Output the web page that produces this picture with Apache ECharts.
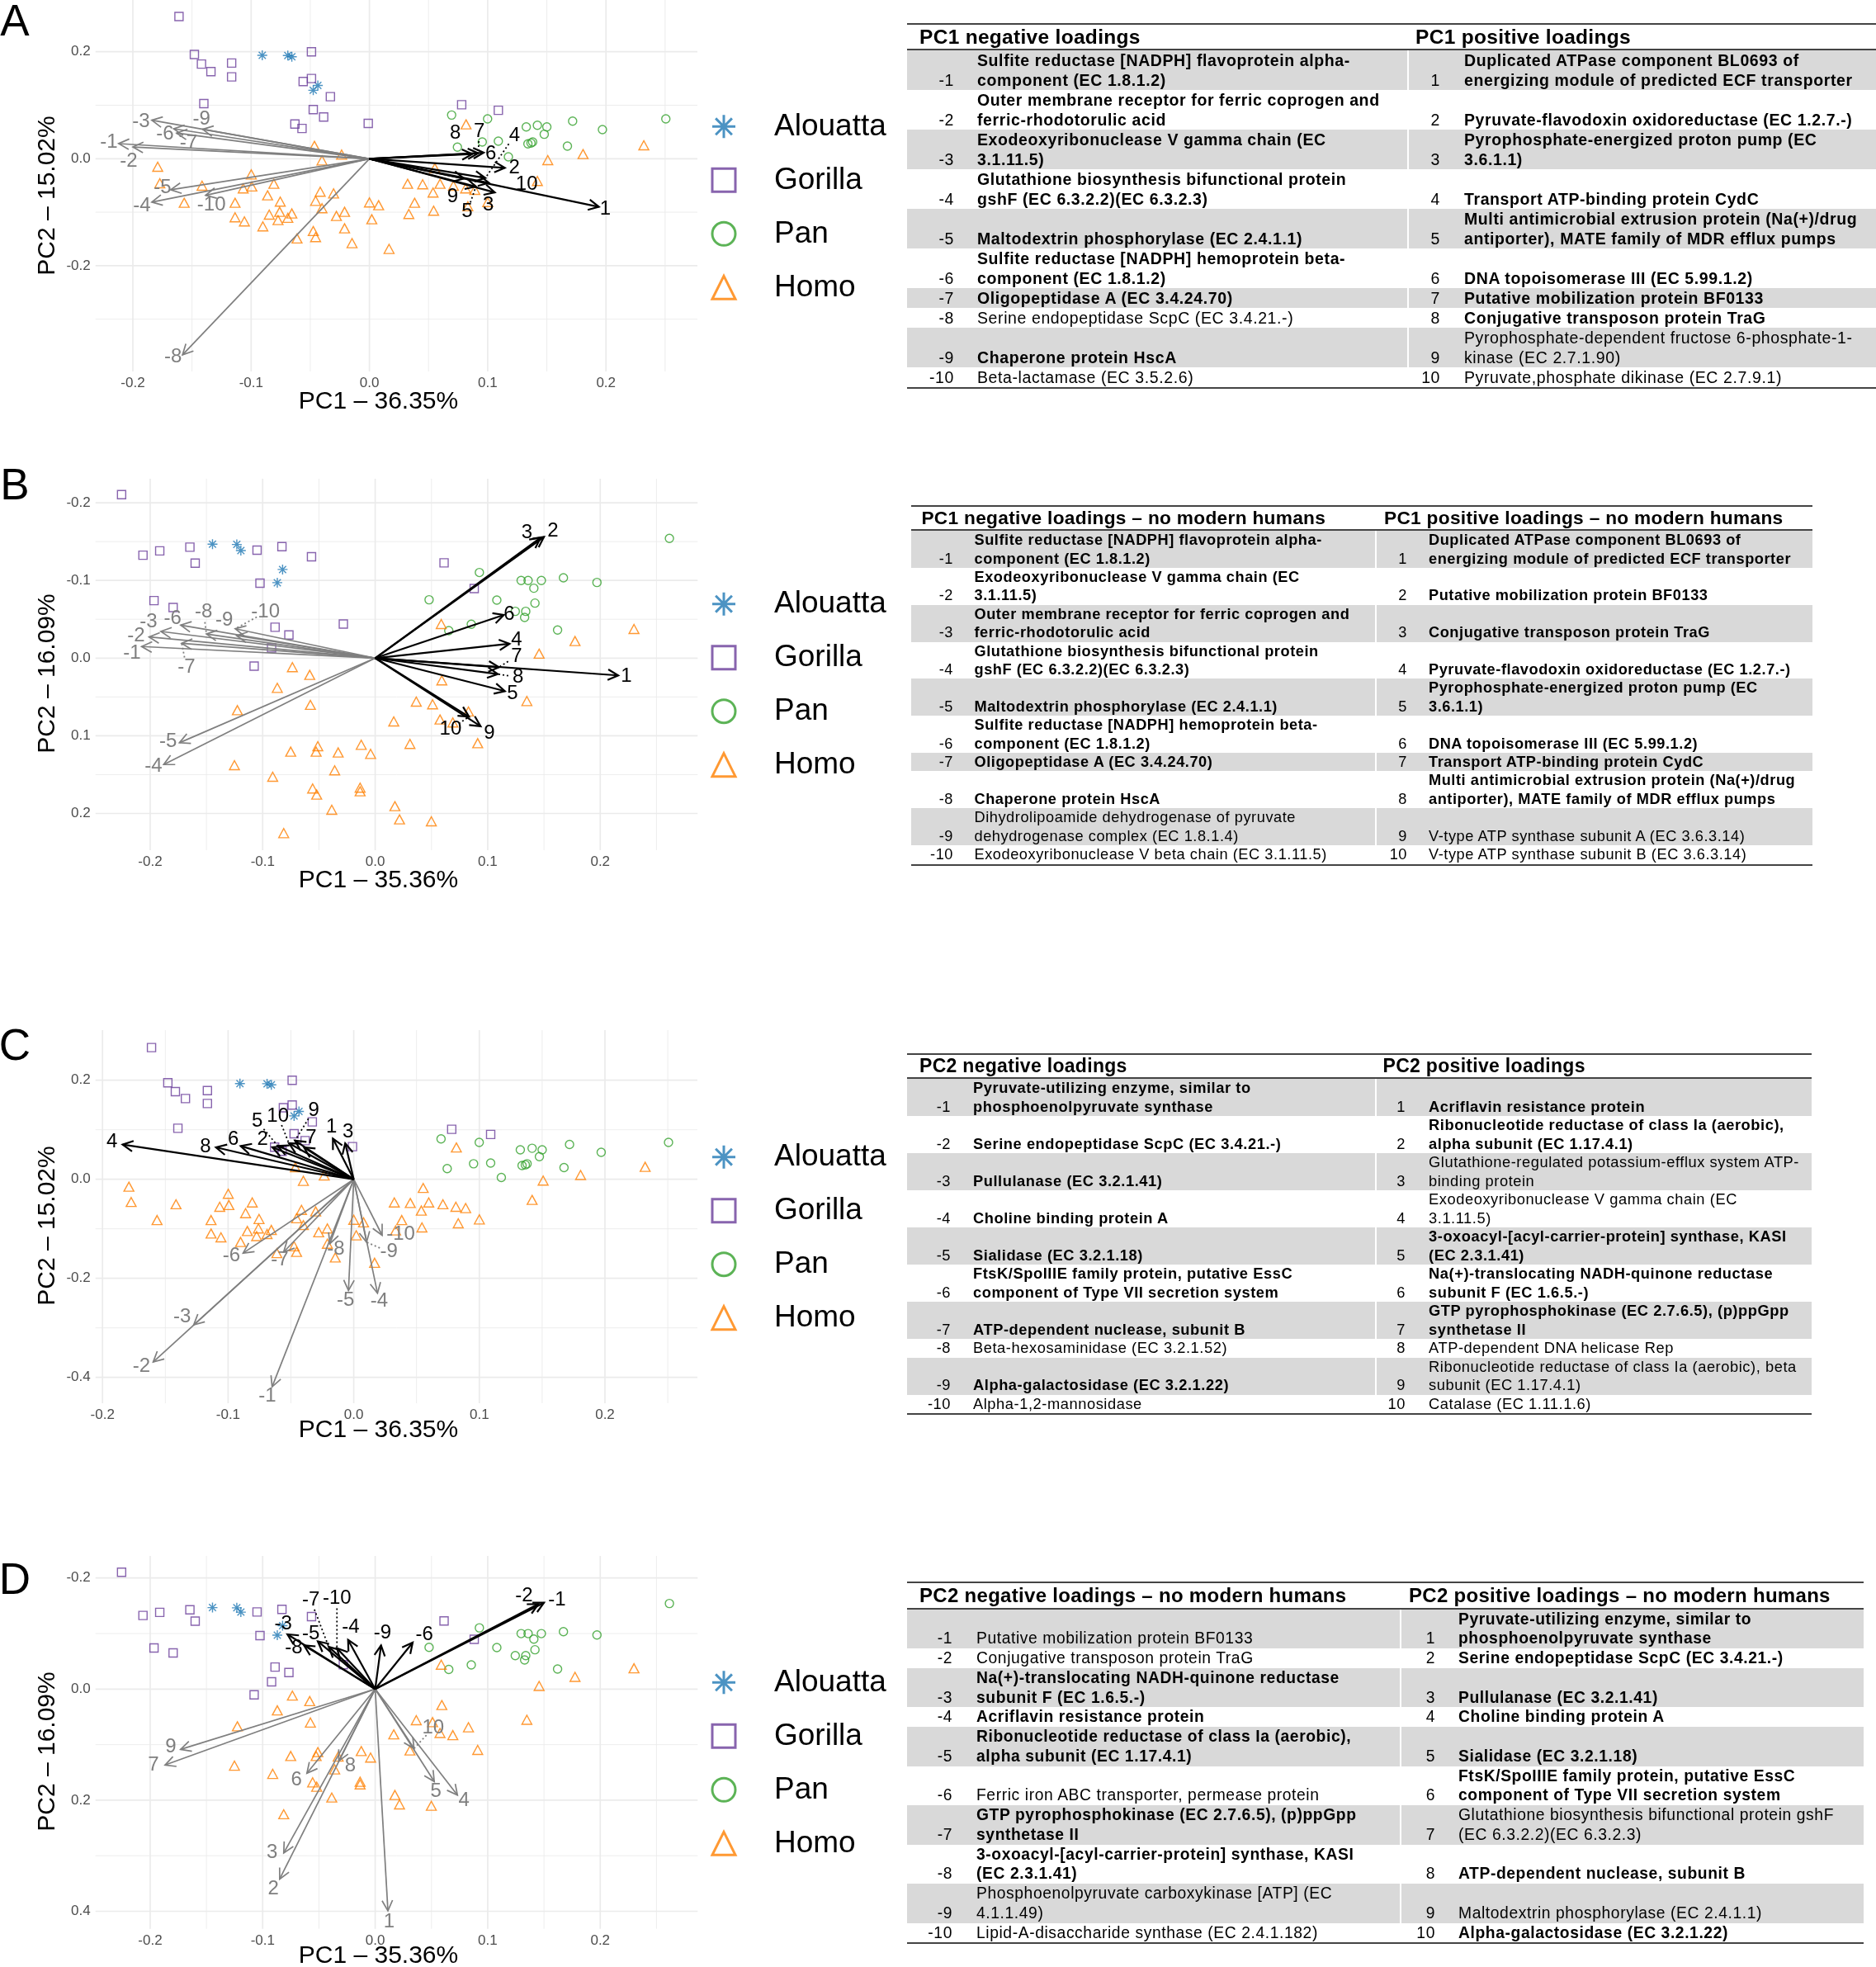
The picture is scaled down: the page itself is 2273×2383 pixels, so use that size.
<!DOCTYPE html>
<html><head><meta charset="utf-8">
<script src="https://cdn.jsdelivr.net/npm/echarts@6/dist/echarts.min.js"></script>
<style>
html,body{margin:0;padding:0;background:#fff;}
#chart{position:absolute;left:0;top:0;width:2273px;height:2383px;}
.tbl{position:absolute;font-family:'Liberation Sans',Arial,Helvetica,sans-serif;color:#000;z-index:5;}
.tbl table{border-collapse:collapse;table-layout:fixed;}
.tbl th{font-weight:bold;text-align:left;vertical-align:bottom;padding:0;white-space:nowrap;border-top:2px solid #444;border-bottom:2px solid #444;}
.tbl td{padding:0;vertical-align:bottom;white-space:nowrap;}
.tbl td.n{text-align:right;}
.tbl tr.g td{background:#D9D9D9;}
.tbl td.c3{border-left:2px solid #fff;}
.tbl tr.last td{border-bottom:2px solid #444;}
</style></head><body>
<div id="chart"></div>
<script>
const FONT = "'Liberation Sans', Arial, Helvetica, sans-serif";
const species = ['Alouatta', 'Gorilla', 'Pan', 'Homo'];
const COLORS = ['#1F78B4', '#6A3D9A', '#33A02C', '#FF7F00'];

// ---------- Scores: PCA with all samples (panels A and C) ----------
const acAlouattaX = [-0.0906, -0.069, -0.0656, -0.0436, -0.0475];
const acAlouattaY = [0.1933, 0.193, 0.1907, 0.137, 0.128];
const acGorillaX = [-0.161, -0.148, -0.142, -0.134, -0.1165, -0.1165, -0.049, -0.049, -0.056, -0.033, -0.140, -0.0475, -0.0387, -0.063, -0.057, -0.001, 0.078, 0.109];
const acGorillaY = [0.266, 0.195, 0.177, 0.163, 0.179, 0.153, 0.200, 0.150, 0.1445, 0.116, 0.103, 0.092, 0.078, 0.065, 0.0566, 0.066, 0.101, 0.0905];
const acPanX = [0.0695, 0.0999, 0.0744, 0.0954, 0.109, 0.1175, 0.1326, 0.142, 0.150, 0.1478, 0.1718, 0.197, 0.2506, 0.134, 0.1366, 0.138, 0.1674];
const acPanY = [0.0817, 0.0746, 0.0216, 0.0314, 0.0329, 0.0036, 0.0596, 0.0627, 0.0596, 0.0458, 0.0704, 0.0545, 0.0746, 0.0278, 0.0293, 0.0314, 0.0237];
const acHomoX = [0.0817, -0.0465, -0.0235, -0.0401, 0.232, 0.1806, 0.1508, -0.179, -0.0999, 0.0553,
  -0.1772, -0.1415, -0.1067, -0.0994, -0.0808, -0.0861, -0.0416, -0.0303, 0.0323, 0.045,
  0.0597, 0.071, 0.0813, 0.0891, 0.142, 0.0538, -0.1566, -0.1136, -0.0754, -0.0455,
  -0.0401, 0.0, 0.0078, 0.0382, -0.1136, -0.1057, -0.0847, -0.0759, -0.0773, -0.069,
  -0.0656, -0.0901, -0.0279, -0.021, 0.002, 0.0333, 0.0543, -0.021, -0.0475, -0.0612,
  -0.0455, -0.0147, 0.0166, 0.0832, 0.100];
const acHomoY = [0.0643, 0.0242, 0.0077, -0.0031, 0.0252, 0.0087, -0.0026, -0.0149, -0.0293, -0.0175,
  -0.0458, -0.0504, -0.0555, -0.0519, -0.0468, -0.0684, -0.0617, -0.0648, -0.0468, -0.0478,
  -0.0468, -0.0504, -0.0555, -0.0581, -0.0416, -0.0632, -0.0823, -0.0823, -0.0802, -0.0787,
  -0.0925, -0.0817, -0.0869, -0.0823, -0.1095, -0.1172, -0.1044, -0.0992, -0.1147, -0.1105,
  -0.1023, -0.1265, -0.1069, -0.0992, -0.1131, -0.1033, -0.0972, -0.1301, -0.1352, -0.1491,
  -0.1465, -0.1578, -0.1686, -0.0889, -0.081];

// ---------- Scores: PCA without modern humans (panels B and D) ----------
const bdAlouattaX = [-0.1446, -0.123, -0.1194, -0.0823, -0.087];
const bdAlouattaY = [-0.1467, -0.1463, -0.1385, -0.1141, -0.0971];
const bdGorillaX = [-0.2254, -0.2064, -0.1915, -0.1647, -0.160, -0.105, -0.0829, -0.0566, 0.0612, 0.088, -0.1024, -0.1966, -0.1796, -0.089, -0.0767, -0.0283, -0.0921, -0.1076];
const bdGorillaY = [-0.2104, -0.1325, -0.1381, -0.1428, -0.1222, -0.1389, -0.1435, -0.1304, -0.1226, -0.0896, -0.0964, -0.074, -0.0652, -0.0397, -0.0298, -0.0439, -0.0131, 0.0103];
const bdPanX = [0.0479, 0.0926, 0.1081, 0.0654, 0.0854, 0.1297, 0.1359, 0.1477, 0.141, 0.1673, 0.1971, 0.2615, 0.142, 0.1245, 0.1338, 0.1328, 0.1621];
const bdPanY = [-0.0751, -0.1102, -0.0747, -0.0354, -0.0436, -0.0999, -0.0999, -0.0999, -0.09, -0.1034, -0.0974, -0.1541, -0.0708, -0.0602, -0.0602, -0.0524, -0.0361];
const bdHomoX = [0.0587, -0.0736, -0.0582, -0.087, -0.0576, -0.1225, 0.0592, 0.0365, 0.051, 0.1348,
  0.1457, 0.1776, 0.230, 0.0829, 0.0576, 0.069, 0.0165, 0.0309, 0.0911, -0.051,
  -0.0751, -0.0525, -0.0329, -0.0124, -0.0041, -0.1251, -0.036, -0.0911, -0.0556, -0.052,
  -0.0134, -0.0134, -0.0386, 0.0175, 0.0216, 0.0499, -0.0813];
const bdHomoY = [-0.0439, 0.0117, 0.0216, 0.0383, 0.0602, 0.067, 0.0287, 0.056, 0.0595, 0.0553,
  -0.0057, -0.022, -0.0375, 0.0687, 0.079, 0.0829, 0.0815, 0.1105, 0.1095, 0.1134,
  0.1204, 0.1204, 0.1215, 0.1116, 0.1233, 0.1378, 0.1445, 0.1527, 0.1679, 0.1757,
  0.1668, 0.1715, 0.1952, 0.1906, 0.2076, 0.2101, 0.2253];

// ---------- Loadings (arrow tips) and their label positions ----------
const posNames = ['1', '2', '3', '4', '5', '6', '7', '8', '9', '10'];
const negNames = ['-1', '-2', '-3', '-4', '-5', '-6', '-7', '-8', '-9', '-10'];

// Panel A: PC1 loadings
const aPosX = [0.194, 0.1145, 0.106, 0.098, 0.090, 0.0966, 0.092, 0.087, 0.080, 0.101];
const aPosY = [-0.090, -0.017, -0.063, -0.036, -0.052, 0.0113, 0.0102, 0.0087, -0.037, -0.045];
const aPosLabX = [0.1995, 0.1225, 0.1005, 0.1226, 0.0826, 0.1027, 0.0929, 0.0726, 0.0703, 0.133];
const aPosLabY = [-0.094, -0.017, -0.0864, 0.043, -0.0994, 0.0087, 0.0514, 0.047, -0.071, -0.048];
const aPosLeaders = ['4', '5', '7'];
const aNegX = [-0.212, -0.200, -0.184, -0.184, -0.168, -0.1655, -0.163, -0.158, -0.141, -0.1385];
const aNegY = [0.0283, 0.022, 0.072, -0.081, -0.058, 0.056, 0.048, -0.3666, 0.055, -0.0684];
const aNegLabX = [-0.2203, -0.2036, -0.193, -0.1923, -0.175, -0.1728, -0.153, -0.166, -0.142, -0.1336];
const aNegLabY = [0.0303, -0.004, 0.069, -0.088, -0.0545, 0.0458, 0.0293, -0.371, 0.0746, -0.0864];
const aNegLeaders = ['-7', '-9'];

// Panel B: PC1 loadings, no modern humans
const bPosX = [0.216, 0.150, 0.147, 0.1194, 0.1153, 0.1143, 0.110, 0.109, 0.0937, 0.0834];
const bPosY = [0.0223, -0.156, -0.155, -0.0184, 0.0425, -0.0556, 0.0117, 0.0205, 0.0878, 0.0755];
const bPosLabX = [0.2233, 0.158, 0.1348, 0.1256, 0.122, 0.119, 0.1256, 0.127, 0.1014, 0.067];
const bPosLabY = [0.0234, -0.164, -0.161, -0.0237, 0.0453, -0.0567, -0.0025, 0.0248, 0.0967, 0.0914];
const bPosLeaders = ['7', '8', '10'];
const bNegX = [-0.2076, -0.201, -0.1905, -0.188, -0.174, -0.1729, -0.172, -0.150, -0.1232, -0.1244];
const bNegY = [-0.0149, -0.0272, -0.0343, 0.137, 0.109, -0.0425, -0.019, -0.031, -0.029, -0.0378];
const bNegLabX = [-0.2161, -0.2125, -0.2015, -0.197, -0.184, -0.180, -0.1677, -0.1525, -0.1342, -0.0975];
const bNegLabY = [-0.006, -0.029, -0.0467, 0.139, 0.107, -0.051, 0.0117, -0.059, -0.0485, -0.059];
const bNegLeaders = ['-7', '-8', '-10'];

// Panel C: PC2 loadings
const cPosX = [-0.0166, -0.0648, -0.0068, -0.184, -0.0604, -0.090, -0.0396, -0.1097, -0.0468, -0.0516];
const cPosY = [0.0823, 0.0645, 0.0728, 0.070, 0.0673, 0.0673, 0.0645, 0.0645, 0.078, 0.0728];
const cPosLabX = [-0.0177, -0.0725, -0.0046, -0.1925, -0.0768, -0.0959, -0.034, -0.118, -0.0319, -0.0604];
const cPosLabY = [0.106, 0.081, 0.095, 0.0757, 0.117, 0.080, 0.084, 0.0657, 0.1395, 0.128];
const cPosLeaders = ['5', '9', '10'];
const cNegX = [-0.065, -0.1597, -0.1274, 0.0189, -0.0042, -0.0881, -0.0558, -0.019, 0.0102, 0.0226];
const cNegY = [-0.419, -0.369, -0.294, -0.23, -0.2244, -0.149, -0.1467, -0.13, -0.127, -0.113];
const cNegLabX = [-0.0688, -0.169, -0.1366, 0.0203, -0.0065, -0.0974, -0.059, -0.0143, 0.028, 0.0374];
const cNegLabY = [-0.438, -0.377, -0.277, -0.2456, -0.244, -0.155, -0.162, -0.141, -0.1467, -0.1106];
const cNegLeaders = ['-9'];

// Panel D: PC2 loadings, no modern humans
const dNegX = [0.150, 0.145, -0.078, -0.0241, -0.051, 0.0333, -0.0413, -0.0633, 0.0052, -0.034];
const dNegY = [-0.1555, -0.153, -0.0985, -0.0886, -0.086, -0.0837, -0.076, -0.0787, -0.0787, -0.0737];
const dNegLabX = [0.1616, 0.1323, -0.0817, -0.0217, -0.0572, 0.0437, -0.0572, -0.0723, 0.0064, -0.034];
const dNegLabY = [-0.1605, -0.168, -0.118, -0.111, -0.100, -0.0986, -0.160, -0.0737, -0.101, -0.163];
const dNegLeaders = ['-7', '-10'];
const dPosX = [0.0113, -0.0849, -0.0813, 0.0731, 0.0525, -0.0607, -0.1868, -0.0324, -0.173, 0.0345];
const dPosY = [0.399, 0.342, 0.295, 0.191, 0.1664, 0.1516, 0.1367, 0.1293, 0.1085, 0.107];
const dPosLabX = [0.0124, -0.0906, -0.0916, 0.079, 0.054, -0.070, -0.197, -0.0221, -0.1817, 0.0515];
const dPosLabY = [0.419, 0.3596, 0.295, 0.2, 0.1847, 0.164, 0.1367, 0.138, 0.1035, 0.0698];
const dPosLeaders = ['10'];

// ---------- Axis ticks ----------
const xMajorTicks = [-0.2, -0.1, 0.0, 0.1, 0.2];
const xMinorTicks = [-0.15, -0.05, 0.05, 0.15, 0.25];
const aYMajor = [-0.2, 0.0, 0.2];  const aYMinor = [-0.3, -0.1, 0.1];
const bYMajor = [-0.2, -0.1, 0.0, 0.1, 0.2]; const bYMinor = [-0.15, -0.05, 0.05, 0.15];
const cYMajor = [-0.4, -0.2, 0.0, 0.2]; const cYMinor = [-0.3, -0.1, 0.1];
const dYMajor = [-0.2, 0.0, 0.2, 0.4]; const dYMinor = [-0.1, 0.1, 0.3];

// ---------- Tables ----------
const tAHead = ['PC1 negative loadings', 'PC1 positive loadings'];
const tANeg = ['Sulfite reductase [NADPH] flavoprotein alpha-\ncomponent (EC 1.8.1.2)',
  'Outer membrane receptor for ferric coprogen and\nferric-rhodotorulic acid',
  'Exodeoxyribonuclease V gamma chain (EC\n3.1.11.5)',
  'Glutathione biosynthesis bifunctional protein\ngshF (EC 6.3.2.2)(EC 6.3.2.3)',
  'Maltodextrin phosphorylase (EC 2.4.1.1)',
  'Sulfite reductase [NADPH] hemoprotein beta-\ncomponent (EC 1.8.1.2)',
  'Oligopeptidase A (EC 3.4.24.70)',
  'Serine endopeptidase ScpC (EC 3.4.21.-)',
  'Chaperone protein HscA',
  'Beta-lactamase (EC 3.5.2.6)'];
const tANegBold = [1, 1, 1, 1, 1, 1, 1, 0, 1, 0];
const tAPos = ['Duplicated ATPase component BL0693 of\nenergizing module of predicted ECF transporter',
  'Pyruvate-flavodoxin oxidoreductase (EC 1.2.7.-)',
  'Pyrophosphate-energized proton pump (EC\n3.6.1.1)',
  'Transport ATP-binding protein CydC',
  'Multi antimicrobial extrusion protein (Na(+)/drug\nantiporter), MATE family of MDR efflux pumps',
  'DNA topoisomerase III (EC 5.99.1.2)',
  'Putative mobilization protein BF0133',
  'Conjugative transposon protein TraG',
  'Pyrophosphate-dependent fructose 6-phosphate-1-\nkinase (EC 2.7.1.90)',
  'Pyruvate,phosphate dikinase (EC 2.7.9.1)'];
const tAPosBold = [1, 1, 1, 1, 1, 1, 1, 1, 0, 0];

const tBHead = ['PC1 negative loadings \u2013 no modern humans', 'PC1 positive loadings \u2013 no modern humans'];
const tBNeg = ['Sulfite reductase [NADPH] flavoprotein alpha-\ncomponent (EC 1.8.1.2)',
  'Exodeoxyribonuclease V gamma chain (EC\n3.1.11.5)',
  'Outer membrane receptor for ferric coprogen and\nferric-rhodotorulic acid',
  'Glutathione biosynthesis bifunctional protein\ngshF (EC 6.3.2.2)(EC 6.3.2.3)',
  'Maltodextrin phosphorylase (EC 2.4.1.1)',
  'Sulfite reductase [NADPH] hemoprotein beta-\ncomponent (EC 1.8.1.2)',
  'Oligopeptidase A (EC 3.4.24.70)',
  'Chaperone protein HscA',
  'Dihydrolipoamide dehydrogenase of pyruvate\ndehydrogenase complex (EC 1.8.1.4)',
  'Exodeoxyribonuclease V beta chain (EC 3.1.11.5)'];
const tBNegBold = [1, 1, 1, 1, 1, 1, 1, 1, 0, 0];
const tBPos = ['Duplicated ATPase component BL0693 of\nenergizing module of predicted ECF transporter',
  'Putative mobilization protein BF0133',
  'Conjugative transposon protein TraG',
  'Pyruvate-flavodoxin oxidoreductase (EC 1.2.7.-)',
  'Pyrophosphate-energized proton pump (EC\n3.6.1.1)',
  'DNA topoisomerase III (EC 5.99.1.2)',
  'Transport ATP-binding protein CydC',
  'Multi antimicrobial extrusion protein (Na(+)/drug\nantiporter), MATE family of MDR efflux pumps',
  'V-type ATP synthase subunit A (EC 3.6.3.14)',
  'V-type ATP synthase subunit B (EC 3.6.3.14)'];
const tBPosBold = [1, 1, 1, 1, 1, 1, 1, 1, 0, 0];

const tCHead = ['PC2 negative loadings', 'PC2 positive loadings'];
const tCNeg = ['Pyruvate-utilizing enzyme, similar to\nphosphoenolpyruvate synthase',
  'Serine endopeptidase ScpC (EC 3.4.21.-)',
  'Pullulanase (EC 3.2.1.41)',
  'Choline binding protein A',
  'Sialidase (EC 3.2.1.18)',
  'FtsK/SpoIIIE family protein, putative EssC\ncomponent of Type VII secretion system',
  'ATP-dependent nuclease, subunit B',
  'Beta-hexosaminidase (EC 3.2.1.52)',
  'Alpha-galactosidase (EC 3.2.1.22)',
  'Alpha-1,2-mannosidase'];
const tCNegBold = [1, 1, 1, 1, 1, 1, 1, 0, 1, 0];
const tCPos = ['Acriflavin resistance protein',
  'Ribonucleotide reductase of class Ia (aerobic),\nalpha subunit (EC 1.17.4.1)',
  'Glutathione-regulated potassium-efflux system ATP-\nbinding protein',
  'Exodeoxyribonuclease V gamma chain (EC\n3.1.11.5)',
  '3-oxoacyl-[acyl-carrier-protein] synthase, KASI\n(EC 2.3.1.41)',
  'Na(+)-translocating NADH-quinone reductase\nsubunit F (EC 1.6.5.-)',
  'GTP pyrophosphokinase (EC 2.7.6.5), (p)ppGpp\nsynthetase II',
  'ATP-dependent DNA helicase Rep',
  'Ribonucleotide reductase of class Ia (aerobic), beta\nsubunit (EC 1.17.4.1)',
  'Catalase (EC 1.11.1.6)'];
const tCPosBold = [1, 1, 0, 0, 1, 1, 1, 0, 0, 0];

const tDHead = ['PC2 negative loadings \u2013 no modern humans', 'PC2 positive loadings \u2013 no modern humans'];
const tDNeg = ['Putative mobilization protein BF0133',
  'Conjugative transposon protein TraG',
  'Na(+)-translocating NADH-quinone reductase\nsubunit F (EC 1.6.5.-)',
  'Acriflavin resistance protein',
  'Ribonucleotide reductase of class Ia (aerobic),\nalpha subunit (EC 1.17.4.1)',
  'Ferric iron ABC transporter, permease protein',
  'GTP pyrophosphokinase (EC 2.7.6.5), (p)ppGpp\nsynthetase II',
  '3-oxoacyl-[acyl-carrier-protein] synthase, KASI\n(EC 2.3.1.41)',
  'Phosphoenolpyruvate carboxykinase [ATP] (EC\n4.1.1.49)',
  'Lipid-A-disaccharide synthase (EC 2.4.1.182)'];
const tDNegBold = [0, 0, 1, 1, 1, 0, 1, 1, 0, 0];
const tDPos = ['Pyruvate-utilizing enzyme, similar to\nphosphoenolpyruvate synthase',
  'Serine endopeptidase ScpC (EC 3.4.21.-)',
  'Pullulanase (EC 3.2.1.41)',
  'Choline binding protein A',
  'Sialidase (EC 3.2.1.18)',
  'FtsK/SpoIIIE family protein, putative EssC\ncomponent of Type VII secretion system',
  'Glutathione biosynthesis bifunctional protein gshF\n(EC 6.3.2.2)(EC 6.3.2.3)',
  'ATP-dependent nuclease, subunit B',
  'Maltodextrin phosphorylase (EC 2.4.1.1)',
  'Alpha-galactosidase (EC 3.2.1.22)'];
const tDPosBold = [1, 1, 1, 1, 1, 1, 0, 1, 0, 1];

// ================= build chart =================
const SYM = {
  Alouatta: 'path://M0,-1L0,1M-1,0L1,0M-0.707,-0.707L0.707,0.707M-0.707,0.707L0.707,-0.707',
  Gorilla: 'rect', Pan: 'circle', Homo: 'triangle'
};
const SSIZE = {Alouatta: 12, Gorilla: 10, Pan: 10, Homo: [12, 11]};

const zip = (xs, ys) => xs.map((x, i) => [x, ys[i]]);
const fmt = v => (Math.abs(v) < 1e-9 ? '0.0' : v.toFixed(1));

const panels = [
  {key: 'A', grid: {left: 115.7, top: 0, width: 729.3, height: 450}, xr: [-0.2316, 0.2773], yr: [-0.3977, 0.2968], inv: false,
   yMajor: aYMajor, yMinor: aYMinor,
   scores: [[acAlouattaX, acAlouattaY], [acGorillaX, acGorillaY], [acPanX, acPanY], [acHomoX, acHomoY]],
   black: {names: posNames, x: aPosX, y: aPosY, lx: aPosLabX, ly: aPosLabY, lead: aPosLeaders},
   grey: {names: negNames, x: aNegX, y: aNegY, lx: aNegLabX, ly: aNegLabY, lead: aNegLeaders},
   xTitle: 'PC1 \u2013 36.35%', yTitle: 'PC2 \u2013 15.02%', letterY: 28, xTitleY: 487, yTitleY: 237, legendTop: 133.3},
  {key: 'B', grid: {left: 115.7, top: 580, width: 729.6, height: 450}, xr: [-0.2486, 0.2866], yr: [-0.2309, 0.2473], inv: true,
   yMajor: bYMajor, yMinor: bYMinor,
   scores: [[bdAlouattaX, bdAlouattaY], [bdGorillaX, bdGorillaY], [bdPanX, bdPanY], [bdHomoX, bdHomoY]],
   black: {names: posNames, x: bPosX, y: bPosY, lx: bPosLabX, ly: bPosLabY, lead: bPosLeaders},
   grey: {names: negNames, x: bNegX, y: bNegY, lx: bNegLabX, ly: bNegLabY, lead: bNegLeaders},
   xTitle: 'PC1 \u2013 35.36%', yTitle: 'PC2 \u2013 16.09%', letterY: 590, xTitleY: 1067, yTitleY: 816, legendTop: 711.7},
  {key: 'C', grid: {left: 115.7, top: 1248, width: 729.3, height: 452}, xr: [-0.2056, 0.2736], yr: [-0.4522, 0.3012], inv: false,
   yMajor: cYMajor, yMinor: cYMinor,
   scores: [[acAlouattaX, acAlouattaY], [acGorillaX, acGorillaY], [acPanX, acPanY], [acHomoX, acHomoY]],
   black: {names: posNames, x: cPosX, y: cPosY, lx: cPosLabX, ly: cPosLabY, lead: cPosLeaders},
   grey: {names: negNames, x: cNegX, y: cNegY, lx: cNegLabX, ly: cNegLabY, lead: cNegLeaders},
   xTitle: 'PC1 \u2013 36.35%', yTitle: 'PC2 \u2013 15.02%', letterY: 1269, xTitleY: 1733, yTitleY: 1485, legendTop: 1381.7},
  {key: 'D', grid: {left: 115.7, top: 1885, width: 729.6, height: 451.7}, xr: [-0.2486, 0.2866], yr: [-0.2397, 0.4315], inv: true,
   yMajor: dYMajor, yMinor: dYMinor,
   scores: [[bdAlouattaX, bdAlouattaY], [bdGorillaX, bdGorillaY], [bdPanX, bdPanY], [bdHomoX, bdHomoY]],
   black: {names: negNames, x: dNegX, y: dNegY, lx: dNegLabX, ly: dNegLabY, lead: dNegLeaders},
   grey: {names: posNames, x: dPosX, y: dPosY, lx: dPosLabX, ly: dPosLabY, lead: dPosLeaders},
   xTitle: 'PC1 \u2013 35.36%', yTitle: 'PC2 \u2013 16.09%', letterY: 1916, xTitleY: 2370, yTitleY: 2122, legendTop: 2018.3}
];

function gridRender(params, api) {
  const cs = params.coordSys;
  const v = api.value(0), orient = api.value(1), major = api.value(2);
  const lw = major ? 1.7 : 0.9;
  let shape;
  if (orient === 0) {
    const px = api.coord([v, 0])[0];
    shape = {x1: px, y1: cs.y, x2: px, y2: cs.y + cs.height};
  } else {
    const py = api.coord([0, v])[1];
    shape = {x1: cs.x, y1: py, x2: cs.x + cs.width, y2: py};
  }
  return {type: 'line', shape, style: {stroke: '#EBEBEB', lineWidth: lw}};
}

function makeArrowRender(set, color, lw) {
  return function (params, api) {
    const i = params.dataIndex;
    const o = api.coord([0, 0]);
    const t = api.coord([api.value(0), api.value(1)]);
    const l = api.coord([api.value(2), api.value(3)]);
    const ang = Math.atan2(t[1] - o[1], t[0] - o[0]);
    const L = 14, a = 0.47;
    const p1 = [t[0] - L * Math.cos(ang - a), t[1] - L * Math.sin(ang - a)];
    const p2 = [t[0] - L * Math.cos(ang + a), t[1] - L * Math.sin(ang + a)];
    const children = [
      {type: 'line', shape: {x1: o[0], y1: o[1], x2: t[0], y2: t[1]}, style: {stroke: color, lineWidth: lw}},
      {type: 'polyline', shape: {points: [p1, t, p2]}, style: {stroke: color, lineWidth: lw, fill: 'none'}}
    ];
    if (set.lead.indexOf(set.names[i]) >= 0) {
      const dx = t[0] - l[0], dy = t[1] - l[1], d = Math.hypot(dx, dy) || 1;
      const s = 12 / d;
      children.push({type: 'line', shape: {x1: l[0] + dx * s, y1: l[1] + dy * s, x2: t[0], y2: t[1]},
        style: {stroke: color, lineWidth: 1.8, lineDash: [2, 3]}});
    }
    children.push({type: 'text', x: l[0], y: l[1],
      style: {text: set.names[i], fill: color, fontSize: 24, fontFamily: FONT, align: 'center', verticalAlign: 'middle'}});
    return {type: 'group', children};
  };
}

const option = {animation: false, backgroundColor: '#fff', grid: [], xAxis: [], yAxis: [], series: [], legend: [], graphic: []};

panels.forEach((p, k) => {
  option.grid.push(Object.assign({containLabel: false}, p.grid));
  option.xAxis.push({type: 'value', gridIndex: k, min: p.xr[0], max: p.xr[1],
    axisLine: {show: false}, axisTick: {show: false}, splitLine: {show: false},
    axisLabel: {customValues: xMajorTicks, formatter: fmt, fontSize: 17, color: '#4D4D4D', fontFamily: FONT, margin: 6}});
  option.yAxis.push({type: 'value', gridIndex: k, min: p.yr[0], max: p.yr[1], inverse: p.inv,
    axisLine: {show: false}, axisTick: {show: false}, splitLine: {show: false},
    axisLabel: {customValues: p.yMajor, formatter: fmt, fontSize: 17, color: '#4D4D4D', fontFamily: FONT, margin: 6}});

  const gridData = [];
  xMinorTicks.forEach(v => gridData.push([v, 0, 0]));
  p.yMinor.forEach(v => gridData.push([v, 1, 0]));
  xMajorTicks.forEach(v => gridData.push([v, 0, 1]));
  p.yMajor.forEach(v => gridData.push([v, 1, 1]));
  option.series.push({type: 'custom', name: 'grid' + p.key, xAxisIndex: k, yAxisIndex: k, silent: true, z: 0,
    renderItem: gridRender, data: gridData, encode: {x: -1, y: -1}});

  species.forEach((sp, j) => {
    option.series.push({type: 'scatter', name: sp, xAxisIndex: k, yAxisIndex: k, z: 2, silent: true,
      symbol: SYM[sp], symbolSize: SSIZE[sp], symbolKeepAspect: true,
      itemStyle: {color: 'transparent', borderColor: COLORS[j], borderWidth: 1.4},
      emphasis: {disabled: true},
      data: zip(p.scores[j][0], p.scores[j][1])});
  });

  [[p.grey, '#7F7F7F', 1.7, 3], [p.black, '#000000', 2.2, 4]].forEach(([set, col, lw, z]) => {
    option.series.push({type: 'custom', name: 'loadings', xAxisIndex: k, yAxisIndex: k, z, silent: true,
      renderItem: makeArrowRender(set, col, lw), encode: {x: 0, y: 1},
      data: set.x.map((x, i) => [x, set.y[i], set.lx[i], set.ly[i]])});
  });

  option.legend.push({orient: 'vertical', left: 861.5, top: p.legendTop, padding: 0,
    itemWidth: 28, itemHeight: 28, itemGap: 25, selectedMode: false,
    data: species.map(s => ({name: s, icon: SYM[s]})),
    itemStyle: {borderWidth: 3},
    textStyle: {fontSize: 37, fontFamily: FONT, color: '#000', lineHeight: 40, padding: [0, 0, 0, 42]}});

  option.graphic.push({type: 'text', x: 18, y: p.letterY, silent: true,
    style: {text: p.key, fontSize: 53, fontFamily: FONT, fill: '#000', align: 'center', verticalAlign: 'middle'}});
  option.graphic.push({type: 'text', x: 458.5, y: p.xTitleY, silent: true,
    style: {text: p.xTitle, fontSize: 30, fontFamily: FONT, fill: '#000', align: 'center', verticalAlign: 'middle'}});
  option.graphic.push({type: 'text', x: 58, y: p.yTitleY, rotation: Math.PI / 2, silent: true,
    style: {text: p.yTitle, fontSize: 30, fontFamily: FONT, fill: '#000', align: 'center', verticalAlign: 'middle'}});
});

const chart = echarts.init(document.getElementById('chart'), null, {renderer: 'canvas', width: 2273, height: 2383});
chart.setOption(option);

// ================= tables =================
const tableCfgs = [
  {head: tAHead, neg: tANeg, negB: tANegBold, pos: tAPos, posB: tAPosBold, left: 1099, top: 28.3,
   cols: [57, 550, 39, 528], pad: [28, 29], hp: [15, 9], hh: 29, hf: 24.5, hls: 0.3, f: 19.5, ls: 0.6, lh: 24},
  {head: tBHead, neg: tBNeg, negB: tBNegBold, pos: tBPos, posB: tBPosBold, left: 1103.6, top: 611.7,
   cols: [51.4, 512, 38, 490.5], pad: [25.5, 26], hp: [12.8, 10], hh: 27.5, hf: 22.7, hls: 0.3, f: 18.2, ls: 0.56, lh: 22.4},
  {head: tCHead, neg: tCNeg, negB: tCNegBold, pos: tCPos, posB: tCPosBold, left: 1099, top: 1275.7,
   cols: [53, 515, 36, 492], pad: [27, 28], hp: [15, 8.5], hh: 27.8, hf: 23, hls: 0.3, f: 18.3, ls: 0.56, lh: 22.5},
  {head: tDHead, neg: tDNeg, negB: tDNegBold, pos: tDPos, posB: tDPosBold, left: 1099, top: 1915.7,
   cols: [55, 543, 42, 519], pad: [29, 28], hp: [15, 10], hh: 30, hf: 24, hls: 0.3, f: 19.3, ls: 0.59, lh: 23.75}
];

function cellText(s) { return s.split('\n').join('<br>'); }

tableCfgs.forEach(cfg => {
  const div = document.createElement('div');
  div.className = 'tbl';
  div.style.left = cfg.left + 'px';
  div.style.top = cfg.top + 'px';
  const width = cfg.cols.reduce((a, b) => a + b, 0);
  let html = `<table style="width:${width}px"><colgroup>` + cfg.cols.map(w => `<col style="width:${w}px">`).join('') + '</colgroup>';
  const thStyle = `font-size:${cfg.hf}px;letter-spacing:${cfg.hls}px;height:${cfg.hh}px;line-height:${cfg.hh}px;`;
  html += `<thead><tr><th colspan="2" style="${thStyle}padding-left:${cfg.hp[0]}px">${cfg.head[0]}</th>` +
          `<th colspan="2" style="${thStyle}padding-left:${cfg.hp[1]}px">${cfg.head[1]}</th></tr></thead><tbody>`;
  const tdStyle = `font-size:${cfg.f}px;letter-spacing:${cfg.ls}px;line-height:${cfg.lh}px;`;
  for (let i = 0; i < 10; i++) {
    const cls = (i % 2 === 0 ? 'g' : '') + (i === 9 ? ' last' : '');
    html += `<tr class="${cls}">` +
      `<td class="n" style="${tdStyle}">${negNames[i]}</td>` +
      `<td style="${tdStyle}padding-left:${cfg.pad[0]}px;font-weight:${cfg.negB[i] ? 'bold' : 'normal'}">${cellText(cfg.neg[i])}</td>` +
      `<td class="n c3" style="${tdStyle}">${posNames[i]}</td>` +
      `<td style="${tdStyle}padding-left:${cfg.pad[1]}px;font-weight:${cfg.posB[i] ? 'bold' : 'normal'}">${cellText(cfg.pos[i])}</td></tr>`;
  }
  html += '</tbody></table>';
  div.innerHTML = html;
  document.body.appendChild(div);
});
</script>
</body></html>
